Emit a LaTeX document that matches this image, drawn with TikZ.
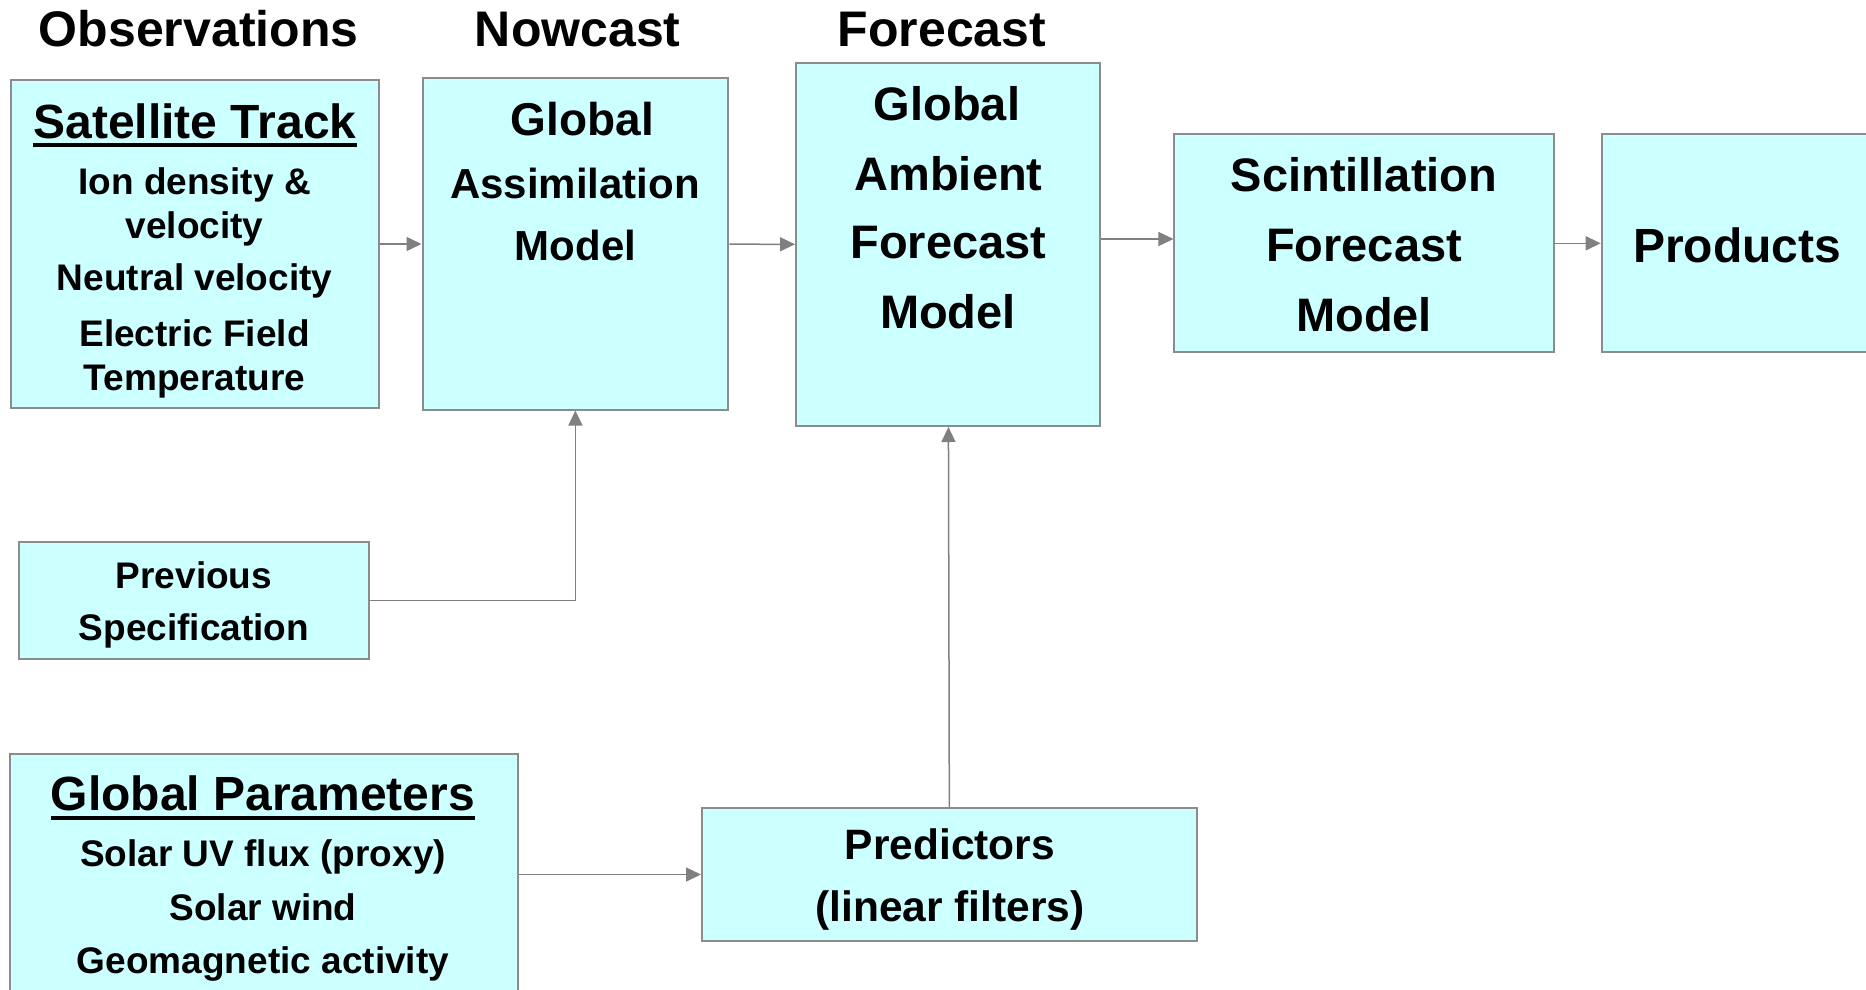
\documentclass[tikz,border=0pt]{standalone}
\usepackage{fontspec}
\setmainfont{Liberation Sans}
\usetikzlibrary{arrows.meta}
\definecolor{boxfill}{HTML}{CCFFFF}
\definecolor{boxline}{RGB}{140,140,140}
\definecolor{arrline}{RGB}{128,128,128}
\begin{document}
\begin{tikzpicture}[x=1pt,y=-1pt,
  box/.style={draw=boxline,line width=2pt,fill=boxfill,rectangle,inner sep=0pt},
  txt/.style={anchor=base,inner sep=0pt,font=\bfseries\fontsize{#1}{#1}\selectfont},
  txt/.default=37,
  arr/.style={draw=arrline,line width=1.5pt,-{Triangle[length=15pt,width=14pt]}},
  uline/.style={line width=3.5pt,black}]
\useasboundingbox (0,0) rectangle (1866,990);
% boxes
\node[box,minimum width=368pt,minimum height=328.5pt] (sat) at (194.6,244) {};
\node[box,minimum width=305.8pt,minimum height=331pt] (assim) at (575.4,244) {};
\node[box,minimum width=304pt,minimum height=363pt] (amb) at (948,244.5) {};
\node[box,minimum width=379.5pt,minimum height=217.7pt] (scint) at (1364.2,243.3) {};
\node[box,minimum width=278pt,minimum height=217.7pt] (prod) at (1740.7,243.3) {};
\node[box,minimum width=350pt,minimum height=117.8pt] (prev) at (194,600.4) {};
\node[box,minimum width=508.2pt,minimum height=245.5pt] (gp) at (263.6,877.2) {};
\node[box,minimum width=495pt,minimum height=133pt] (pred) at (949.5,874.5) {};
% headings
\node[txt=50] (hobs) at (198.7,46.5) {Observations};
\node[txt=50] (hnow) at (577.8,46.5) {Nowcast};
\node[txt=50] (hfor) at (942,46.5) {Forecast};
% satellite track
\node[txt=48] (satT) at (195,138) {Satellite Track};
\draw[uline] ([yshift=-7pt]satT.base west) -- ([yshift=-7pt]satT.base east);
\node[txt] (sat1) at (194.6,194) {Ion density \&};
\node[txt] (sat2) at (194.6,238) {velocity};
\node[txt] (sat3) at (194.6,290.5) {Neutral velocity};
\node[txt] (sat4) at (194.6,346) {Electric Field};
\node[txt] (sat5) at (194.6,390) {Temperature};
% assimilation
\node[txt=46] (as1) at (582.5,135) {Global};
\node[txt=42] (as2) at (575,198.3) {Assimilation};
\node[txt=42] (as3) at (575.5,260) {Model};
% ambient
\node[txt=47] (am1) at (947,121) {Global};
\node[txt=47] (am2) at (948.5,190) {Ambient};
\node[txt=47] (am3) at (948.5,258) {Forecast};
\node[txt=47] (am4) at (948,328) {Model};
% scintillation
\node[txt=47] (sc1) at (1364,191.7) {Scintillation};
\node[txt=47] (sc2) at (1364,261.7) {Forecast};
\node[txt=47] (sc3) at (1364,331.7) {Model};
% products
\node[txt=48] (pr1) at (1737,262) {Products};
% previous
\node[txt] (pv1) at (194,588.3) {Previous};
\node[txt] (pv2) at (194,640) {Specification};
% global parameters
\node[txt=48] (gpT) at (263,810) {Global Parameters};
\draw[uline] ([yshift=-8pt]gpT.base west) -- ([yshift=-8pt]gpT.base east);
\node[txt] (gp1) at (263,866.7) {Solar UV flux (proxy)};
\node[txt] (gp2) at (263,920) {Solar wind};
\node[txt] (gp3) at (263,973.5) {Geomagnetic activity};
% predictors
\node[txt=42.5] (pd1) at (950,859) {Predictors};
\node[txt=42.5] (pd2) at (950,921) {(linear filters)};
% connectors
\draw[arr] (sat) -- (assim);
\draw[arr] (assim) -- (amb);
\draw[arr] (amb.east |- 0,239) -- (scint.west |- 0,239);
\draw[arr] (scint) -- (prod);
\draw[arr] (prev.east) -| (assim.south);
\draw[arr] (gp.east |- pred) -- (pred);
\draw[arr] (pred) -- (amb);
\end{tikzpicture}
\end{document}
